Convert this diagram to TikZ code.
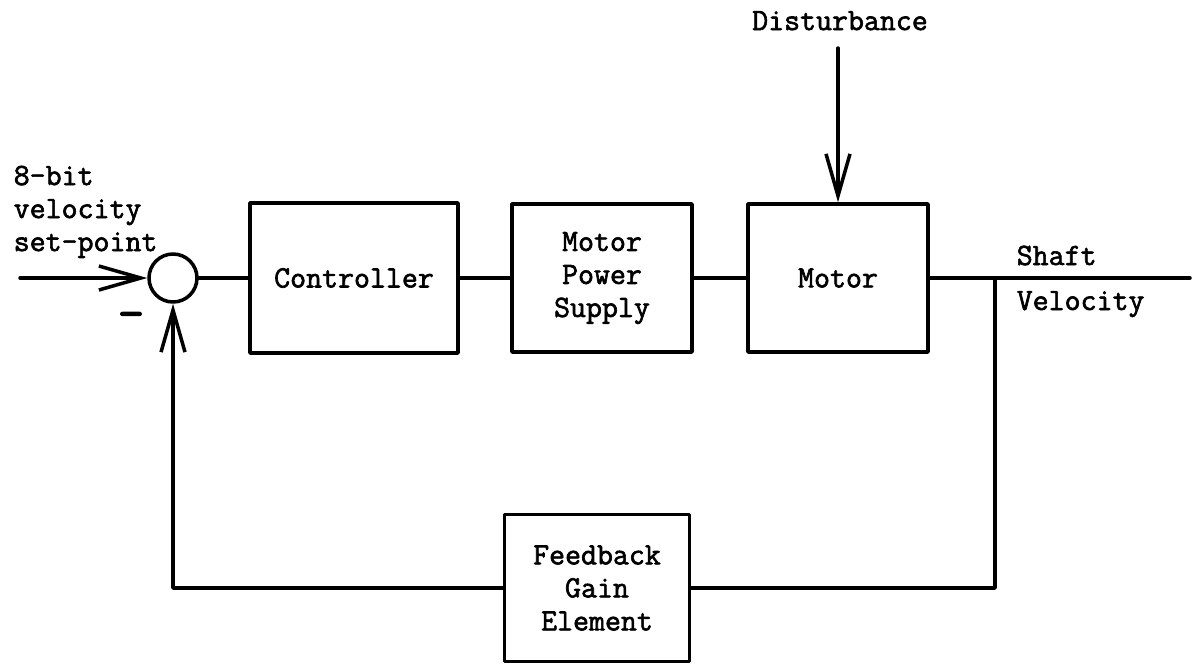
\documentclass[tikz,border=0pt]{standalone}
\usepackage{fontspec}
\setmonofont[AutoFakeBold=2]{Latin Modern Mono}
\usetikzlibrary{arrows.meta}
\begin{document}
\begin{tikzpicture}[x=1pt,y=-1pt,
  line width=3.5pt, line join=round, line cap=round,
  blk/.style={draw, rectangle, inner sep=0pt, align=center, font=\lbl},
  txt/.style={inner sep=0pt, font=\lbl},
  vee/.style={-{Straight Barb[length=42pt,width=24pt,line width=3.5pt]}},
]
\newcommand\lbl{\ttfamily\bfseries\fontsize{31}{33}\selectfont}
\useasboundingbox (0,0) rectangle (1197,667);
% blocks
\node[draw, circle, minimum size=48pt, inner sep=0pt] (sum) at (173,278) {};
\node[blk, minimum width=208pt, minimum height=150pt] (ctrl) at (354,278) {Controller};
\node[blk, minimum width=180pt, minimum height=148pt] (mps) at (602,278) {Motor\\Power\\Supply};
\node[blk, minimum width=180pt, minimum height=148pt] (motor) at (838,278) {Motor};
\node[blk, minimum width=185pt, minimum height=147pt] (fb) at (597,588) {Feedback\\Gain\\Element};
% texts
\node[txt, anchor=south] (dist) at (840,32) {Disturbance};
\node[txt, anchor=north west, align=left] (inlbl) at (12,164) {8-bit\\velocity\\set-point};
\node[txt, font=\ttfamily\bfseries\fontsize{52}{52}\selectfont] (minus) at (131,321) {–};
\node[txt, anchor=base west] (shaft) at (1015,265) {Shaft};
\node[txt, anchor=base west] (vel) at (1015,310) {Velocity};
% coordinates
\coordinate (in) at (20,278);
\coordinate (dtop) at (838,48);
\coordinate (br) at (995,278);
\coordinate (out) at (1190,278);
\coordinate (fbr) at (995,588);
\coordinate (fbl) at (173,588);
% connectors
\draw[vee] (in) -- (sum.west);
\draw (sum.east) -- (ctrl.west);
\draw (ctrl.east) -- (mps.west);
\draw (mps.east) -- (motor.west);
\draw[vee] (dtop) -- (motor.north);
\draw (motor.east) -- (out);
\draw (br) -- (fbr) -- (fb.east);
\draw[vee] (fb.west) -- (fbl) -- (sum.south);
\end{tikzpicture}
\end{document}
